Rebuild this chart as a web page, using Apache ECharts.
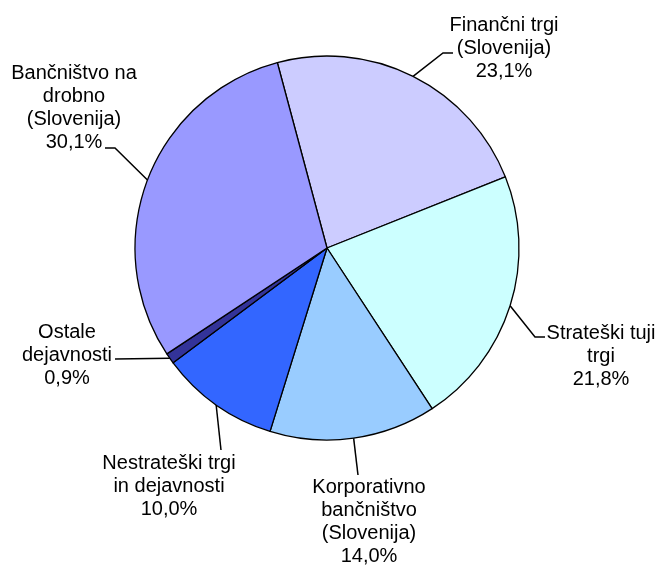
<!DOCTYPE html>
<html>
<head>
<meta charset="utf-8">
<script src="https://cdn.jsdelivr.net/npm/echarts@6/dist/echarts.min.js"></script>
<style>
  html, body { margin: 0; padding: 0; background: #fff; }
  #chart { width: 660px; height: 565px; }
</style>
</head>
<body>
<div id="chart"></div>
<script>
// segments, clockwise from the top-left boundary
const names = [
  'Finančni trgi\n(Slovenija)',
  'Strateški tuji\ntrgi',
  'Korporativno\nbančništvo\n(Slovenija)',
  'Nestrateški trgi\nin dejavnosti',
  'Ostale\ndejavnosti',
  'Bančništvo na\ndrobno\n(Slovenija)'
];
const shares = [23.1, 21.8, 14.0, 10.0, 0.9, 30.1];
const colors = ['#CCCCFF', '#CCFFFF', '#99CCFF', '#3366FF', '#333399', '#9999FF'];

// centre of each label block
const labelPos = [
  [504, 48],
  [601, 356],
  [369, 522],
  [169, 486],
  [67, 355],
  [74, 108]
];
// leader line after it leaves the pie edge (elbow, end)
const leaderTail = [
  [[443, 53], [453, 53]],
  [[535, 337], [545, 337]],
  [[358, 475]],
  [[221, 450]],
  [[115, 359]],
  [[115, 148], [105, 148]]
];

const chart = echarts.init(document.getElementById('chart'));

const option = {
  backgroundColor: '#ffffff',
  animation: false,
  series: [{
    type: 'pie',
    center: [327, 248],
    radius: [0, 192],
    startAngle: 105,
    clockwise: true,
    avoidLabelOverlap: false,
    data: names.map((n, i) => ({
      name: n,
      value: shares[i],
      itemStyle: { color: colors[i] }
    })),
    itemStyle: {
      borderColor: '#000',
      borderWidth: 1.3
    },
    label: {
      show: true,
      position: 'outside',
      color: '#000',
      fontFamily: 'Liberation Sans, Arial, sans-serif',
      fontSize: 20,
      lineHeight: 23,
      align: 'center',
      formatter: p => p.name + '\n' + p.value.toFixed(1).replace('.', ',') + '%'
    },
    labelLine: {
      show: true,
      lineStyle: { color: '#000', width: 1.5 }
    },
    labelLayout: function (params) {
      const pos = labelPos[params.dataIndex];
      const start = params.labelLinePoints ? params.labelLinePoints[0] : null;
      const out = {
        x: pos[0],
        y: pos[1],
        align: 'center',
        verticalAlign: 'middle'
      };
      if (start) {
        out.labelLinePoints = [start].concat(leaderTail[params.dataIndex]);
      }
      return out;
    },
    emphasis: { disabled: true }
  }]
};

chart.setOption(option);
</script>
</body>
</html>
